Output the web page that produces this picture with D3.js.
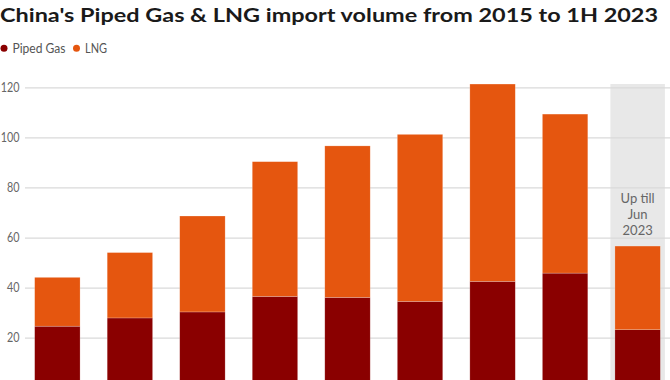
<!DOCTYPE html>
<html><head><meta charset="utf-8">
<script src="https://cdn.jsdelivr.net/npm/d3@7"></script>
<style>
html,body{margin:0;padding:0;background:#fff;}
svg{display:block;}
</style></head>
<body>
<script>
const years = ["2015","2016","2017","2018","2019","2020","2021","2022","2023"];
const pipedGas = [24.6, 27.9, 30.3, 36.5, 36.1, 34.5, 42.5, 45.8, 23.2];
const lng = [19.5, 26.1, 38.3, 53.8, 60.5, 66.7, 78.8, 63.5, 33.4];
const yTicks = [20, 40, 60, 80, 100, 120];
const seriesNames = ["Piped Gas", "LNG"];
const colors = ["#8a0000", "#e5560f"];
const titleText = "China's Piped Gas & LNG import volume from 2015 to 1H 2023";
const noteLines = ["Up till", "Jun", "2023"];

const W = 670, H = 380;
const svg = d3.select("body").append("svg").attr("width", W).attr("height", H);

const x = d3.scaleBand().domain(years).range([21.1, 673.9]).paddingInner(0.374).paddingOuter(0.187);
const y = d3.scaleLinear().domain([0, 120]).range([387.8, 87.3]);

// highlight band for 2023
const last = years[years.length - 1];
svg.append("rect")
  .attr("x", x(last) - x.bandwidth() * 0.1)
  .attr("width", x.bandwidth() * 1.2)
  .attr("y", 84).attr("height", H - 84)
  .attr("fill", "#e8e8e8");

// gridlines + tick labels via axis
const yAxis = d3.axisLeft(y).tickValues(yTicks).tickSize(-(W - 25)).tickPadding(6);
const gy = svg.append("g").attr("transform", "translate(25,0)").call(yAxis);
gy.select(".domain").remove();
gy.selectAll(".tick line").attr("stroke", "#dadada").attr("stroke-width", 1.2);
gy.selectAll(".tick text").attr("fill", "#666").attr("font-family", "Lato, sans-serif").attr("font-size", 12.5).attr("x", -5.5)
  .each(function() {
    const w = this.getComputedTextLength();
    d3.select(this).attr("textLength", w * 0.86).attr("lengthAdjust", "spacingAndGlyphs");
  });

// stacked bars
const data = years.map((yr, i) => ({year: yr, "Piped Gas": pipedGas[i], "LNG": lng[i]}));
const stack = d3.stack().keys(seriesNames)(data);
svg.append("g").selectAll("g").data(stack).join("g")
  .attr("fill", (d, i) => colors[i])
  .selectAll("rect").data(d => d).join("rect")
  .attr("x", d => x(d.data.year))
  .attr("width", x.bandwidth())
  .attr("y", d => y(d[1]))
  .attr("height", d => y(d[0]) - y(d[1]))
  .attr("stroke", "rgba(255,255,255,0.35)")
  .attr("stroke-width", 0.6);

// annotation
const note = svg.append("text")
  .attr("text-anchor", "middle")
  .attr("font-family", "Lato, sans-serif").attr("font-size", 13).attr("fill", "#666");
noteLines.forEach((t, i) => {
  note.append("tspan").attr("x", x(last) + x.bandwidth() / 2).attr("y", 203 + i * 16).text(t);
});

// title
svg.append("text").attr("x", 0).attr("y", 21.5)
  .attr("font-family", "Lato, sans-serif").attr("font-weight", 700)
  .attr("font-size", 19.5).attr("fill", "#1a1a1a")
  .attr("textLength", 658).attr("lengthAdjust", "spacingAndGlyphs")
  .text(titleText);

// legend
const leg = svg.append("g").attr("font-family", "Lato, sans-serif").attr("font-size", 12.5).attr("fill", "#555");
const legWidths = [53, 22];
let lx = 4;
seriesNames.forEach((n, i) => {
  leg.append("circle").attr("cx", lx).attr("cy", 48.3).attr("r", 3.5).attr("fill", colors[i]);
  leg.append("text").attr("x", lx + 8.5).attr("y", 52.5).text(n)
    .attr("textLength", legWidths[i]).attr("lengthAdjust", "spacingAndGlyphs");
  lx += 8.5 + legWidths[i] + 11;
});
</script>
</body></html>
